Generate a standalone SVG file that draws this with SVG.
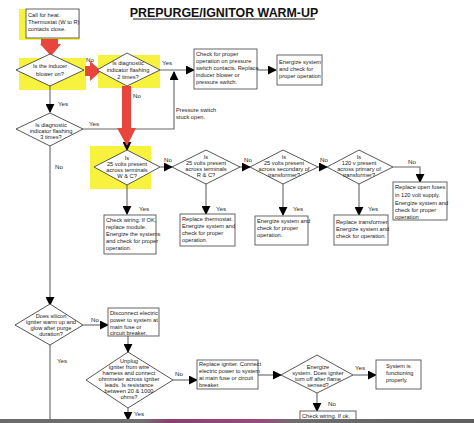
<svg xmlns="http://www.w3.org/2000/svg" width="474" height="423" viewBox="0 0 474 423">
<defs>
<style>
.t{font-family:"Liberation Sans",Arial,sans-serif;font-size:5.7px;fill:#222}
.c{text-anchor:middle}
.lb{font-family:"Liberation Sans",Arial,sans-serif;font-size:6.2px;fill:#222}
.bx{fill:#fff;stroke:#555;stroke-width:0.9}
.dm{fill:#fff;stroke:#444;stroke-width:0.9}
.hl{fill:#f6f23e}
.ln{fill:none;stroke:#666;stroke-width:1.1}
.red{fill:#e8453c}
</style>
<marker id="ah" viewBox="0 0 10 10" refX="9" refY="5" markerWidth="9" markerHeight="9" markerUnits="userSpaceOnUse" orient="auto">
<path d="M0,0 L10,5 L0,10 Z" fill="#000"/>
</marker>
<linearGradient id="strip" x1="0" x2="1" y1="0" y2="0">
<stop offset="0" stop-color="#6a6a6a"/>
<stop offset="0.3" stop-color="#707070"/>
<stop offset="0.36" stop-color="#8a3f70"/>
<stop offset="0.55" stop-color="#9a4a7c"/>
<stop offset="0.62" stop-color="#6e6e6e"/>
<stop offset="1" stop-color="#5e5e5e"/>
</linearGradient>
</defs>
<rect width="474" height="423" fill="#fff"/>

<text x="224" y="17" text-anchor="middle" font-family="Liberation Sans,Arial,sans-serif" font-size="12.4" font-weight="bold" fill="#111">PREPURGE/IGNITOR WARM-UP</text>
<line x1="133" y1="19" x2="315" y2="19" stroke="#111" stroke-width="1"/>

<!-- highlights -->
<rect class="hl" x="19" y="9" width="61" height="31"/>
<rect class="hl" x="19" y="58" width="67" height="32"/>
<rect class="hl" x="98" y="55" width="62" height="33"/>
<rect class="hl" x="90" y="146" width="61" height="43"/>

<g id="connectors">
<line class="ln" x1="50" y1="85" x2="50" y2="112" marker-end="url(#ah)"/>
<line class="ln" x1="160" y1="70" x2="194" y2="70" marker-end="url(#ah)"/>
<polyline class="ln" points="83,129 174,129 174,72" marker-end="url(#ah)"/>
<line class="ln" x1="257" y1="70" x2="276" y2="70" marker-end="url(#ah)"/>
<line class="ln" x1="50" y1="146" x2="50" y2="305" marker-end="url(#ah)"/>
<line class="ln" x1="160" y1="167" x2="172" y2="167" marker-end="url(#ah)"/>
<line class="ln" x1="240" y1="167" x2="250" y2="167" marker-end="url(#ah)"/>
<line class="ln" x1="318" y1="167" x2="327" y2="167" marker-end="url(#ah)"/>
<polyline class="ln" points="393,167 420,167 420,182" marker-end="url(#ah)"/>
<line class="ln" x1="127" y1="185" x2="127" y2="214" marker-end="url(#ah)"/>
<line class="ln" x1="206" y1="183" x2="206" y2="214" marker-end="url(#ah)"/>
<line class="ln" x1="283" y1="183" x2="283" y2="215" marker-end="url(#ah)"/>
<line class="ln" x1="359" y1="183" x2="359" y2="215" marker-end="url(#ah)"/>
<line class="ln" x1="83" y1="325" x2="108" y2="325" marker-end="url(#ah)"/>
<line class="ln" x1="128" y1="336" x2="128" y2="352" marker-end="url(#ah)"/>
<line class="ln" x1="173" y1="380" x2="197" y2="380" marker-end="url(#ah)"/>
<line class="ln" x1="258" y1="375" x2="281" y2="375" marker-end="url(#ah)"/>
<line class="ln" x1="353" y1="375" x2="376" y2="375" marker-end="url(#ah)"/>
<line class="ln" x1="317" y1="393" x2="317" y2="411" marker-end="url(#ah)"/>
<line class="ln" x1="128" y1="408" x2="128" y2="420" marker-end="url(#ah)"/>
<line class="ln" x1="50" y1="345" x2="50" y2="420"/>
<line x1="127" y1="140" x2="127" y2="150" stroke="#000" stroke-width="1" marker-end="url(#ah)"/>
<text class="lb" x="86" y="62">No</text>
<text class="lb" x="162" y="65">Yes</text>
<text class="lb" x="58" y="106">Yes</text>
<text class="lb" x="133" y="98">No</text>
<text class="lb" x="89" y="126">Yes</text>
<text class="lb" x="55" y="169">No</text>
<text class="lb" x="164" y="162">No</text>
<text class="lb" x="244" y="162">No</text>
<text class="lb" x="320" y="162">No</text>
<text class="lb" x="408" y="164">No</text>
<text class="lb" x="139" y="211">Yes</text>
<text class="lb" x="216" y="211">Yes</text>
<text class="lb" x="293" y="211">Yes</text>
<text class="lb" x="368" y="211">Yes</text>
<text class="lb" x="91" y="322">No</text>
<text class="lb" x="57" y="363">Yes</text>
<text class="lb" x="175" y="376">No</text>
<text class="lb" x="355" y="370">Yes</text>
<text class="lb" x="328" y="406">No</text>
<text class="lb" x="134" y="416">Yes</text>
<text class="t" x="176" y="112">Pressure switch</text>
<text class="t" x="176" y="119">stuck open.</text>
</g>

<!-- red arrows -->
<g id="red-arrows">
<polygon class="red" points="41,39 58,39 58,44 61,44 51,56 40,44 41,44"/>
<polygon class="red" points="85,66 90,66 90,61 101,71 90,81 90,76 85,76"/>
<polygon class="red" points="122,86 131,86 131,128 136,128 127,146 117,128 122,128"/>
</g>

<g id="start">
<rect class="bx" x="26" y="9" width="53" height="29"/>
<text class="t" x="28" y="17">Call for heat.</text>
<text class="t" x="28" y="24">Thermostat (W to R)</text>
<text class="t" x="28" y="31">contacts close.</text>
</g>

<g id="d-inducer">
<polygon class="dm" points="50,54 84,70 50,86 16,70"/>
<text class="t c" x="50" y="68">Is the inducer</text>
<text class="t c" x="50" y="76">blower on?</text>
</g>

<g id="d-flash2">
<polygon class="dm" points="127,53 160,70 127,86 97,70"/>
<text class="t c" x="128" y="65">Is diagnostic</text>
<text class="t c" x="128" y="72">indicator flashing</text>
<text class="t c" x="128" y="79">2 times?</text>
</g>

<g id="b-pressure">
<rect class="bx" x="194" y="49" width="63" height="40"/>
<text class="t" x="196" y="56">Check for proper</text>
<text class="t" x="196" y="63">operation on pressure</text>
<text class="t" x="196" y="70">switch contacts. Replace</text>
<text class="t" x="196" y="77">inducer blower or</text>
<text class="t" x="196" y="84">pressure switch.</text>
</g>

<g id="b-energize1">
<rect class="bx" x="277" y="55" width="45" height="30"/>
<text class="t" x="279" y="64">Energize system</text>
<text class="t" x="279" y="71">and check for</text>
<text class="t" x="279" y="78">proper operation</text>
</g>

<g id="d-flash3">
<polygon class="dm" points="50,113 83,129 50,146 16,129"/>
<text class="t c" x="51" y="127">Is diagnostic</text>
<text class="t c" x="51" y="133">indicator flashing</text>
<text class="t c" x="51" y="139">3 times?</text>
</g>

<g id="d-wc">
<polygon class="dm" points="127,150 160,167 127,185 94,167"/>
<text class="t c" x="127" y="160">Is</text>
<text class="t c" x="127" y="166">25 volts present</text>
<text class="t c" x="127" y="172">across terminals</text>
<text class="t c" x="127" y="178">W &amp; C?</text>
</g>

<g id="d-rc">
<polygon class="dm" points="206,150 240,167 206,184 172,167"/>
<text class="t c" x="206" y="159">Is</text>
<text class="t c" x="206" y="165">25 volts present</text>
<text class="t c" x="206" y="171">across terminals</text>
<text class="t c" x="206" y="177">R &amp; C?</text>
</g>

<g id="d-secondary">
<polygon class="dm" points="283,150 318,167 283,184 250,167"/>
<text class="t c" x="284" y="159">Is</text>
<text class="t c" x="284" y="165">25 volts present</text>
<text class="t c" x="284" y="171">across secondary of</text>
<text class="t c" x="284" y="177">transformer?</text>
</g>

<g id="d-primary">
<polygon class="dm" points="359,150 393,167 359,184 327,167"/>
<text class="t c" x="359" y="159">Is</text>
<text class="t c" x="359" y="165">120 v present</text>
<text class="t c" x="359" y="171">across primary of</text>
<text class="t c" x="359" y="177">transformer?</text>
</g>

<g id="b-fuses">
<rect class="bx" x="393" y="182" width="54" height="38"/>
<text class="t" x="395" y="189">Replace open fuses</text>
<text class="t" x="395" y="197">in 120 volt supply.</text>
<text class="t" x="395" y="205">Energize system and</text>
<text class="t" x="395" y="212">check for proper</text>
<text class="t" x="395" y="219">operation</text>
</g>

<g id="b-module">
<rect class="bx" x="104" y="215" width="52" height="39"/>
<text class="t" x="106" y="222">Check wiring. If OK,</text>
<text class="t" x="106" y="229">replace module.</text>
<text class="t" x="106" y="236">Energize the systems</text>
<text class="t" x="106" y="243">and check for proper</text>
<text class="t" x="106" y="250">operation.</text>
</g>

<g id="b-thermostat">
<rect class="bx" x="180" y="214" width="55" height="32"/>
<text class="t" x="182" y="221">Replace thermostat.</text>
<text class="t" x="182" y="228">Energize system and</text>
<text class="t" x="182" y="235">check for proper</text>
<text class="t" x="182" y="242">operation.</text>
</g>

<g id="b-energize2">
<rect class="bx" x="255" y="216" width="53" height="29"/>
<text class="t" x="257" y="223">Energize system and</text>
<text class="t" x="257" y="230">check for proper</text>
<text class="t" x="257" y="237">operation.</text>
</g>

<g id="b-transformer">
<rect class="bx" x="334" y="215" width="54" height="30"/>
<text class="t" x="336" y="224">Replace transformer.</text>
<text class="t" x="336" y="231">Energize system and</text>
<text class="t" x="336" y="238">check for operation.</text>
</g>

<g id="d-igniter">
<polygon class="dm" points="50,304 83,325 50,345 15,325"/>
<text class="t c" x="51" y="318">Does silicon</text>
<text class="t c" x="51" y="324">igniter warm up and</text>
<text class="t c" x="51" y="330">glow after purge</text>
<text class="t c" x="51" y="336">duration?</text>
</g>

<g id="b-disconnect">
<rect class="bx" x="108" y="308" width="51" height="28"/>
<text class="t" x="110" y="315">Disconnect electric</text>
<text class="t" x="110" y="322">power to system at</text>
<text class="t" x="110" y="329">main fuse or</text>
<text class="t" x="110" y="335">circuit breaker.</text>
</g>

<g id="d-ohm">
<polygon class="dm" points="128,352 173,380 128,408 86,380"/>
<text class="t c" x="129" y="363">Unplug</text>
<text class="t c" x="129" y="369">igniter from wire</text>
<text class="t c" x="129" y="375">harness and connect</text>
<text class="t c" x="129" y="381">ohmmeter across igniter</text>
<text class="t c" x="129" y="387">leads. Is resistance</text>
<text class="t c" x="129" y="393">between 20 &amp; 1000</text>
<text class="t c" x="129" y="399">ohms?</text>
</g>

<g id="b-replace-igniter">
<rect class="bx" x="197" y="360" width="61" height="29"/>
<text class="t" x="199" y="366">Replace igniter. Connect</text>
<text class="t" x="199" y="373">electric power to system</text>
<text class="t" x="199" y="380">at main fuse or circuit</text>
<text class="t" x="199" y="387">breaker.</text>
</g>

<g id="d-flame">
<polygon class="dm" points="317,355 353,375 317,393 281,375"/>
<text class="t c" x="318" y="369">Energize</text>
<text class="t c" x="318" y="375">system. Does igniter</text>
<text class="t c" x="318" y="381">turn off after flame</text>
<text class="t c" x="318" y="387">sensed?</text>
</g>

<g id="b-ok">
<rect class="bx" x="376" y="360" width="45" height="29"/>
<text class="t" x="386" y="368">System is</text>
<text class="t" x="386" y="375">functioning</text>
<text class="t" x="386" y="382">properly.</text>
</g>

<g id="b-wiring2">
<rect class="bx" x="300" y="411" width="56" height="14"/>
<text class="t" x="302" y="418">Check wiring. If ok,</text>
</g>

<rect x="0" y="419" width="474" height="4" fill="url(#strip)"/>
</svg>
